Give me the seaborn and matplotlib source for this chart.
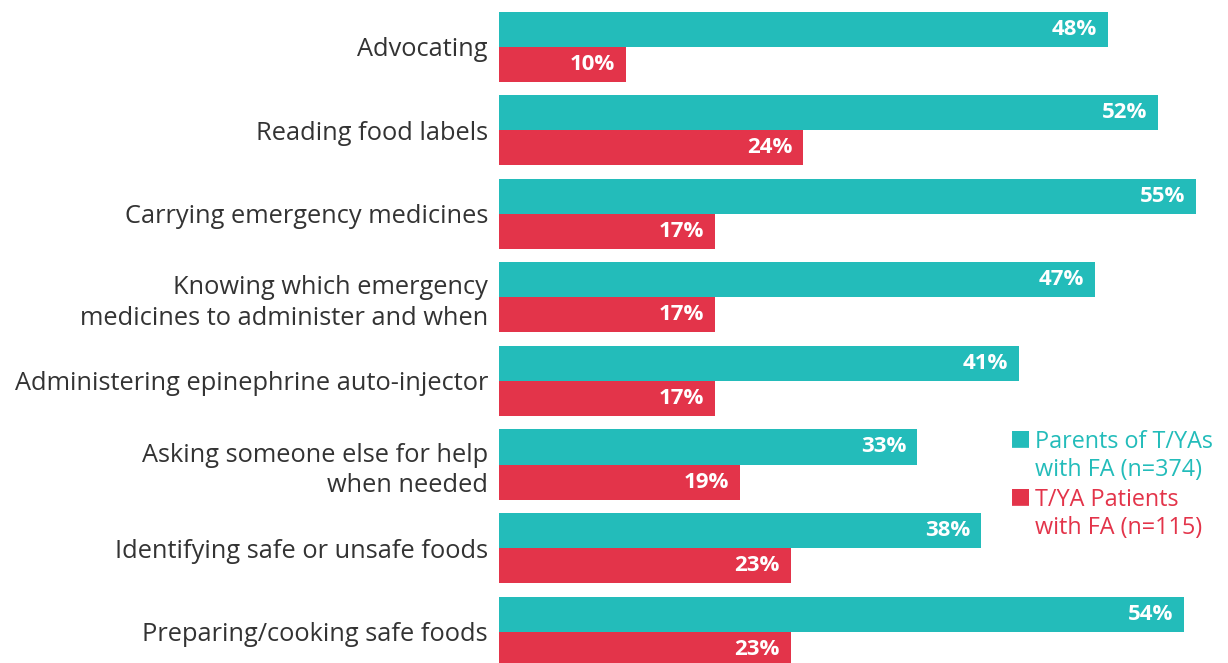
import numpy as np
import pandas as pd
import matplotlib.pyplot as plt
import seaborn as sns

# skills asked about (top to bottom)
skills = ["Advocating", "Reading food labels", "Carrying emergency medicines",
          "Knowing which emergency\nmedicines to administer and when",
          "Administering epinephrine auto-injector",
          "Asking someone else for help\nwhen needed",
          "Identifying safe or unsafe foods", "Preparing/cooking safe foods"]
parents = [48, 52, 55, 47, 41, 33, 38, 54]
patients = [10, 24, 17, 17, 17, 19, 23, 23]
groups = ["Parents of T/YAs\nwith FA (n=374)", "T/YA Patients\nwith FA (n=115)"]
colors = ["#23BCBA", "#E3344A"]

df = pd.DataFrame({
    "skill": skills * 2,
    "pct": parents + patients,
    "group": [groups[0]] * len(skills) + [groups[1]] * len(skills),
})

sns.set_style("white")
plt.rcParams['font.family'] = ['Open Sans', 'DejaVu Sans']

fig = plt.figure(figsize=(12.28, 6.63), dpi=100)
ax = fig.add_axes([499 / 1228, 0, 729 / 1228, 1])
sns.barplot(data=df, y="skill", x="pct", hue="group", palette=colors,
            orient="h", width=0.84, saturation=1, linewidth=0, ax=ax,
            legend=False)

ax.set_xlim(0, 57.5)
ax.set_ylim(7.375, -0.558)
ax.set_xlabel("")
ax.set_ylabel("")
ax.set_xticks([])
ax.tick_params(axis="y", length=0, pad=8, labelsize=18.3, labelcolor="#333333")
for lab in ax.get_yticklabels():
    lab.set_linespacing(1.3)
sns.despine(ax=ax, left=True, bottom=True)

# value labels inside bar ends
for cont in ax.containers:
    for bar in cont:
        w = bar.get_width()
        ax.text(w - 0.85, bar.get_y() + bar.get_height() / 2, f"{w:.0f}%",
                ha="right", va="center", color="white", fontsize=16,
                fontweight="bold")

# legend with colored text
for i, (g, c) in enumerate(zip(groups, colors)):
    y = 0.354 - i * 0.087
    fig.text(1010 / 1228, y, "\u25A0", color=c, fontsize=16, va="top", ha="left",
             family=['DejaVu Sans'])
    fig.text(1035 / 1228, y - 0.003, g, color=c, fontsize=16.8, va="top",
             ha="left", linespacing=1.2)

fig.savefig("out.png", dpi=100)
